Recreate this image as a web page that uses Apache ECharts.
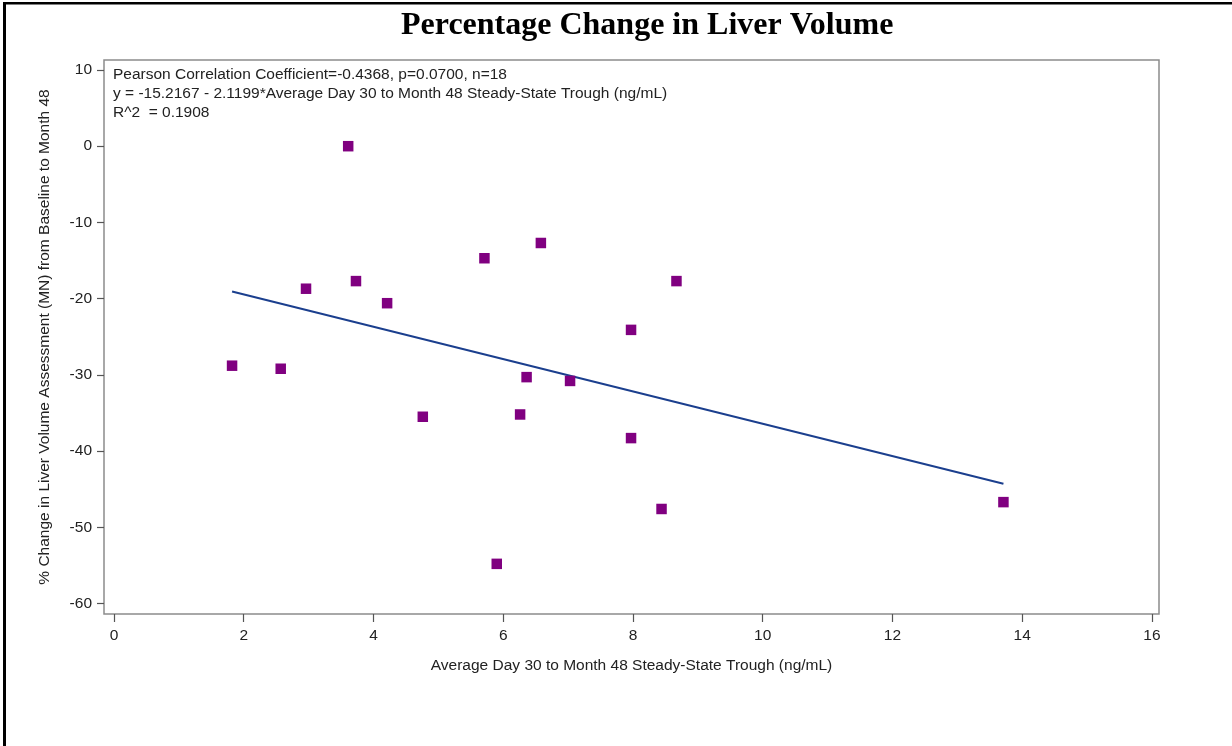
<!DOCTYPE html>
<html>
<head>
<meta charset="utf-8">
<title>Percentage Change in Liver Volume</title>
<script src="https://cdn.jsdelivr.net/npm/echarts@6/dist/echarts.min.js"></script>
<style>
  html, body { margin: 0; padding: 0; background: #fff; }
  #chart { width: 1232px; height: 746px; }
</style>
</head>
<body>
<div id="chart"></div>
<script>
// Average trough concentration (ng/mL) per subject
const troughValues = [1.82, 2.57, 2.96, 3.61, 3.73, 4.21, 4.76, 5.71, 5.90, 6.26, 6.36, 6.58, 7.03, 7.97, 7.97, 8.44, 8.67, 13.71];
// % change in liver volume from baseline to month 48, same subject order
const liverChange = [-28.8, -29.2, -18.7, 0.0, -17.7, -20.6, -35.5, -14.7, -54.8, -35.2, -30.3, -12.7, -30.8, -24.1, -38.3, -47.6, -17.7, -46.7];

// Linear fit stated in the annotation
const fitIntercept = -15.2167;
const fitSlope = -2.1199;
const pearsonR = -0.4368;
const pValue = 0.0700;
const rSquared = 0.1908;

const xTickValues = [0, 2, 4, 6, 8, 10, 12, 14, 16];
const yTickValues = [10, 0, -10, -20, -30, -40, -50, -60];

const xTitle = 'Average Day 30 to Month 48 Steady-State Trough (ng/mL)';
const yTitle = '% Change in Liver Volume Assessment (MN) from Baseline to Month 48';

const points = troughValues.map((x, i) => [x, liverChange[i]]);
const xLo = Math.min(...troughValues);
const xHi = Math.max(...troughValues);
const fitLine = [[xLo, fitIntercept + fitSlope * xLo], [xHi, fitIntercept + fitSlope * xHi]];

const annotation = [
  'Pearson Correlation Coefficient=' + pearsonR.toFixed(4) + ', p=' + pValue.toFixed(4) + ', n=' + points.length,
  'y = ' + fitIntercept.toFixed(4) + ' - ' + Math.abs(fitSlope).toFixed(4) + '*' + xTitle,
  'R^2  = ' + rSquared.toFixed(4)
].join('\n');

const sansFont = '"Liberation Sans", Arial, sans-serif';
const textColor = '#222';

const chart = echarts.init(document.getElementById('chart'), null, { renderer: 'canvas' });
chart.setOption({
  animation: false,
  backgroundColor: '#fff',
  title: {
    text: 'Percentage Change in Liver Volume',
    left: 396,
    top: 5,
    textStyle: {
      fontFamily: '"Liberation Serif", "Times New Roman", serif',
      fontWeight: 'bold',
      fontSize: 32,
      color: '#000'
    }
  },
  grid: {
    left: 104,
    right: 73,
    top: 60,
    bottom: 132,
    show: true,
    borderColor: '#8c8c8c',
    borderWidth: 1.5,
    backgroundColor: 'transparent'
  },
  xAxis: {
    type: 'value',
    min: -0.154,
    max: 16.108,
    name: xTitle,
    nameLocation: 'middle',
    nameGap: 44,
    nameTextStyle: { fontFamily: sansFont, fontSize: 15.5, color: textColor },
    axisLine: { show: false, onZero: false },
    splitLine: { show: false },
    axisTick: {
      show: true,
      inside: false,
      length: 8,
      customValues: xTickValues,
      lineStyle: { color: '#555', width: 1.2 }
    },
    axisLabel: {
      customValues: xTickValues,
      margin: 14,
      fontFamily: sansFont,
      fontSize: 15.5,
      color: textColor
    }
  },
  yAxis: {
    type: 'value',
    min: -61.38,
    max: 11.31,
    name: yTitle,
    nameLocation: 'middle',
    nameGap: 51,
    nameRotate: 90,
    nameTextStyle: { fontFamily: sansFont, fontSize: 15.5, color: textColor },
    axisLine: { show: false, onZero: false },
    splitLine: { show: false },
    axisTick: {
      show: true,
      inside: false,
      length: 7,
      customValues: yTickValues,
      lineStyle: { color: '#555', width: 1.2 }
    },
    axisLabel: {
      customValues: yTickValues,
      margin: 12,
      fontFamily: sansFont,
      fontSize: 15.5,
      color: textColor
    }
  },
  graphic: [
    // page frame: left and top rules
    { type: 'rect', left: 3, top: 2, shape: { width: 1229, height: 2.5 }, style: { fill: '#000' }, silent: true },
    { type: 'rect', left: 3, top: 2, shape: { width: 3, height: 744 }, style: { fill: '#000' }, silent: true },
    {
      type: 'text',
      left: 113,
      top: 65,
      style: {
        text: annotation,
        fontFamily: sansFont,
        fontSize: 15.5,
        lineHeight: 19,
        fill: textColor
      },
      silent: true
    }
  ],
  series: [
    {
      type: 'line',
      data: fitLine,
      symbol: 'none',
      lineStyle: { color: '#1b3f8e', width: 2 },
      z: 2
    },
    {
      type: 'scatter',
      data: points,
      symbol: 'rect',
      symbolSize: 10.5,
      itemStyle: { color: '#800080', opacity: 1 },
      z: 3
    }
  ]
});
</script>
</body>
</html>
